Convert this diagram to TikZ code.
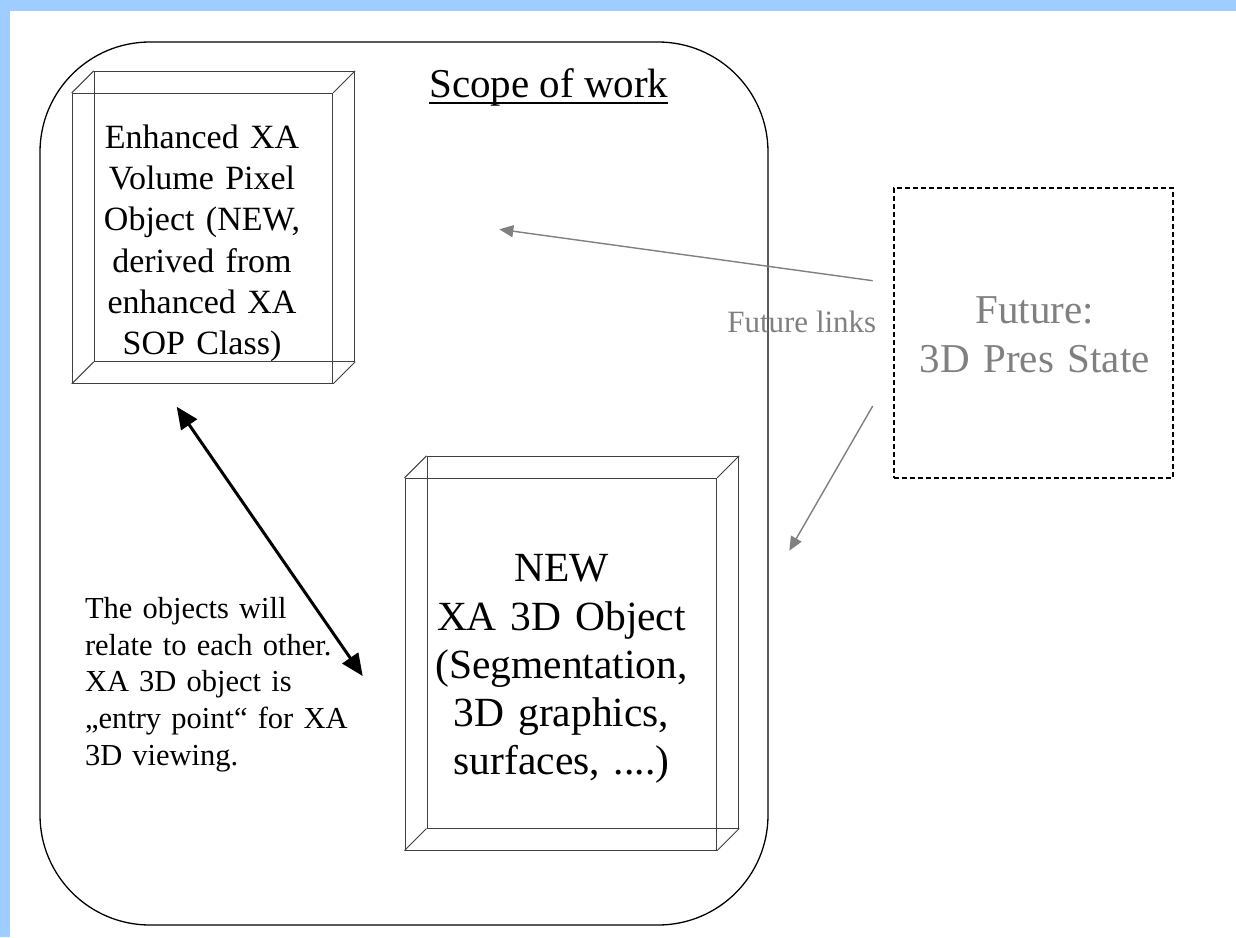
\documentclass[tikz,border=0pt]{standalone}
\usepackage{fontspec}
\setmainfont{Liberation Serif}
\usetikzlibrary{arrows.meta,calc}
\definecolor{band}{RGB}{160,205,255}
\definecolor{futgray}{RGB}{128,128,128}
\begin{document}
\begin{tikzpicture}[x=1pt,y=-1pt,
  boxline/.style={draw=black!75, line width=1pt, inner sep=0pt},
  txt/.style={inner sep=0pt, outer sep=0pt},
  garrow/.style={draw=futgray, line width=1.4pt, -{Triangle[length=14pt,width=12pt]}, fill=futgray},
  barrow/.style={draw=black, line width=3pt, {Triangle[length=22pt,width=19pt]}-{Triangle[length=22pt,width=19pt]}}]
\useasboundingbox (0,0) rectangle (1236,937);
\fill[white] (0,0) rectangle (1236,937);
\fill[band] (0,0) rectangle (1236,11);
\fill[band] (0,0) rectangle (10,937);

% scope of work frame
\node[draw, line width=1.3pt, rounded corners=110pt, minimum width=728pt, minimum height=883pt, inner sep=0pt] (scope) at (404,483.5) {};
\node[txt, anchor=base west, font=\fontsize{41}{48}\selectfont] (scopetitle) at (429.3,97.7) {Scope of work};
\draw[line width=2pt] ($(scopetitle.base west)+(0,5.6)$) -- ($(scopetitle.base east)+(0,5.6)$);

% box 1
\node[boxline, minimum width=260.4pt, minimum height=290pt] (b1) at (202.5,238.3) {};
\node[boxline, minimum width=260.4pt, minimum height=290pt] (b1back) at ($(b1)+(22,-22)$) {};
\foreach \c in {north west,north east,south west,south east}
  \draw[black!75, line width=1pt] (b1.\c) -- (b1back.\c);
\node[txt, anchor=base, text width=250pt, align=center, font=\fontsize{34}{41.3}\selectfont] (t1) at (202,148.3)
  {Enhanced XA\\Volume Pixel\\Object (NEW,\\derived from\\enhanced XA\\SOP Class)};

% box 2
\node[boxline, minimum width=311.7pt, minimum height=371.7pt] (b2) at (560.85,664.15) {};
\node[boxline, minimum width=311.7pt, minimum height=371.7pt] (b2back) at ($(b2)+(22,-22)$) {};
\foreach \c in {north west,north east,south west,south east}
  \draw[black!75, line width=1pt] (b2.\c) -- (b2back.\c);
\node[txt, anchor=base, text width=300pt, align=center, font=\fontsize{41.5}{48.3}\selectfont] (t2) at (561.5,581.7)
  {NEW\\XA 3D Object\\(Segmentation,\\3D graphics,\\surfaces, ....)};

% future box
\node[draw=black, line width=1.8pt, dash pattern=on 5pt off 3pt, minimum width=279.3pt, minimum height=289.4pt, inner sep=0pt] (fut) at (1033.7,333) {};
\node[txt, anchor=base, text width=270pt, align=center, text=futgray, font=\fontsize{41}{49.3}\selectfont] (futtxt) at (1034.7,323.3)
  {Future:\\3D Pres State};
\node[txt, anchor=base west, text=futgray, font=\fontsize{31}{36}\selectfont] (futlinks) at (727.3,332.7) {Future links};

% comment text
\node[txt, anchor=base west, text width=330pt, align=left, font=\fontsize{30.5}{36.7}\selectfont] (note) at (85,618.3)
  {The objects will\\relate to each other.\\XA 3D object is\\„entry point“ for XA\\3D viewing.};

% arrows
\coordinate (a1s) at (176.7,406.7);
\coordinate (a1e) at (362.7,676);
\draw[barrow] (a1s) -- (a1e);

\coordinate (g1s) at (872.7,280.7);
\coordinate (g1e) at (499.3,229.3);
\coordinate (g2s) at (872.7,406);
\coordinate (g2e) at (789.3,550.7);
\draw[garrow] (g1s) -- (g1e);
\draw[garrow] (g2s) -- (g2e);
\end{tikzpicture}
\end{document}
